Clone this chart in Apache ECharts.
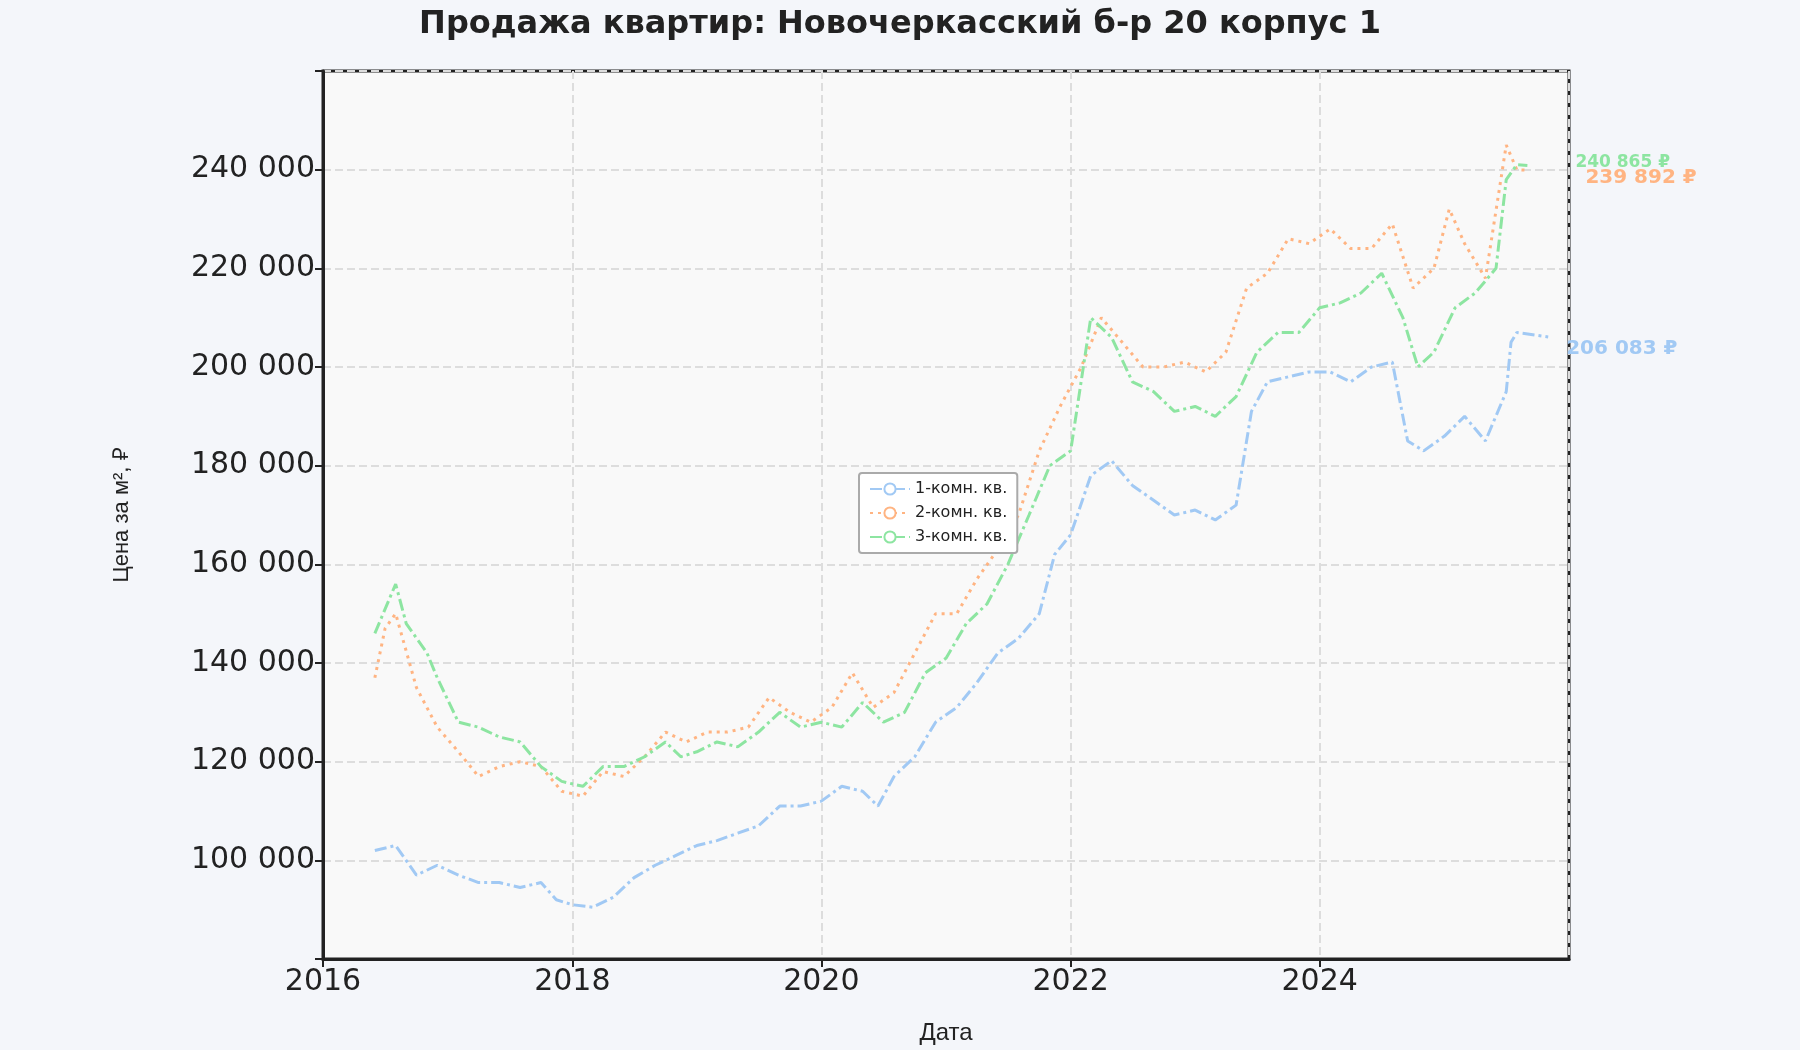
<!DOCTYPE html>
<html><head><meta charset="utf-8">
<script src="https://cdn.jsdelivr.net/npm/echarts@6/dist/echarts.min.js"></script>
<style>html,body{margin:0;background:#f4f6fa}#c{width:1800px;height:1050px}</style>
</head><body><div id="c"></div>
<script>
const dates1=['2016-06-01','2016-08-01','2016-10-01','2016-12-01','2017-02-01','2017-04-01','2017-06-01','2017-08-01','2017-10-01','2017-11-15','2018-01-01','2018-03-01','2018-05-01','2018-07-01','2018-09-01','2018-11-01','2019-01-01','2019-03-01','2019-05-01','2019-07-01','2019-09-01','2019-11-01','2020-01-01','2020-03-01','2020-05-01','2020-06-15','2020-08-01','2020-10-01','2020-12-01','2021-02-01','2021-04-01','2021-06-01','2021-08-01','2021-10-01','2021-11-15','2022-01-01','2022-03-01','2022-05-01','2022-07-01','2022-09-01','2022-11-01','2023-01-01','2023-03-01','2023-05-01','2023-06-15','2023-08-01','2023-10-01','2023-12-01','2024-02-01','2024-04-01','2024-06-01','2024-08-01','2024-09-15','2024-11-01','2025-01-01','2025-03-01','2025-05-01','2025-07-01','2025-07-15','2025-08-01','2025-11-01'];
const room1=[102000,103000,97000,99000,97000,95500,95500,94500,95500,92000,91000,90500,92500,96500,99000,101000,103000,104000,105500,107000,111000,111000,112000,115000,114000,111000,117000,121000,128000,131000,136000,142000,145000,150000,162000,166000,178000,181000,176000,173000,170000,171000,169000,172000,191000,197000,198000,199000,199000,197000,200000,201000,185000,183000,186000,190000,185000,195000,205000,207000,206083];
const dates2=['2016-06-01','2016-07-01','2016-08-01','2016-10-01','2016-12-01','2017-02-01','2017-04-01','2017-06-01','2017-08-01','2017-10-01','2017-12-01','2018-02-01','2018-04-01','2018-06-01','2018-08-01','2018-10-01','2018-12-01','2019-02-01','2019-04-01','2019-06-01','2019-08-01','2019-10-01','2019-12-01','2020-02-01','2020-04-01','2020-06-01','2020-08-01','2020-10-01','2020-12-01','2021-02-01','2021-04-01','2021-06-01','2021-08-01','2021-10-01','2021-12-01','2022-02-01','2022-04-01','2022-06-01','2022-08-01','2022-10-01','2022-12-01','2023-02-01','2023-04-01','2023-06-01','2023-08-01','2023-10-01','2023-12-01','2024-02-01','2024-04-01','2024-06-01','2024-08-01','2024-10-01','2024-12-01','2025-01-15','2025-03-01','2025-05-01','2025-07-01','2025-08-01','2025-09-01'];
const room2=[137000,147000,150000,135000,127000,122000,117000,119000,120000,119000,114000,113000,118000,117000,121000,126000,124000,126000,126000,127000,133000,130000,128000,131000,138000,131000,134000,142000,150000,150000,157000,163000,170000,183000,192000,200000,210000,205000,200000,200000,201000,199000,203000,216000,219000,226000,225000,228000,224000,224000,229000,216000,220000,232000,225000,218000,245000,240000,239892];
const dates3=['2016-06-01','2016-08-01','2016-09-01','2016-11-01','2016-12-01','2017-02-01','2017-04-01','2017-06-01','2017-08-01','2017-10-01','2017-12-01','2018-02-01','2018-04-01','2018-06-01','2018-08-01','2018-10-01','2018-11-15','2019-01-01','2019-03-01','2019-05-01','2019-07-01','2019-09-01','2019-11-01','2020-01-01','2020-03-01','2020-05-01','2020-07-01','2020-09-01','2020-11-01','2021-01-01','2021-03-01','2021-05-01','2021-07-01','2021-09-01','2021-11-01','2022-01-01','2022-03-01','2022-05-01','2022-07-01','2022-09-01','2022-11-01','2023-01-01','2023-03-01','2023-05-01','2023-07-01','2023-09-01','2023-11-01','2024-01-01','2024-03-01','2024-05-01','2024-07-01','2024-09-01','2024-10-15','2024-12-01','2025-02-01','2025-04-01','2025-06-01','2025-07-01','2025-08-01','2025-09-01'];
const room3=[146000,156000,148000,142000,137000,128000,127000,125000,124000,119000,116000,115000,119000,119000,121000,124000,121000,122000,124000,123000,126000,130000,127000,128000,127000,132000,128000,130000,138000,141000,148000,152000,160000,170000,180000,183000,210000,206000,197000,195000,191000,192000,190000,194000,203000,207000,207000,212000,213000,215000,219000,210000,200000,203000,212000,215000,220000,238000,241000,240865];
const yTicks=[100000,120000,140000,160000,180000,200000,220000,240000];
const fmt=v=>String(Math.round(v)).replace(/\B(?=(\d{3})+(?!\d))/g,' ');
const zip=(d,v)=>d.map((x,i)=>[x,v[i]]);
function ser(name,d,v,color,type,off){return {name,type:'line',data:zip(d,v),showSymbol:false,
 lineStyle:{color,width:3,type},itemStyle:{color},
 endLabel:{show:true,formatter:p=>fmt(p.value[1])+' ₽',color,fontWeight:'bold',fontSize:off[2],offset:[off[0],off[1]],fontFamily:'DejaVu Sans'}};}
const chart=echarts.init(document.getElementById('c'));
chart.setOption({
 backgroundColor:'#f4f6fa',
 title:{text:'Продажа квартир: Новочеркасский б-р 20 корпус 1',left:'center',top:4,textStyle:{fontSize:32,fontWeight:'bold',color:'#222',fontFamily:'DejaVu Sans'}},
 grid:{left:323,right:231,top:71,bottom:89,show:true,backgroundColor:'#f9f9f9',borderColor:'#222',borderWidth:3},
 legend:{left:859,top:473,orient:'vertical',backgroundColor:'#fff',borderColor:'#aaa',borderWidth:2,borderRadius:3,padding:[8,10],itemGap:8,itemWidth:40,textStyle:{fontSize:16,color:'#222',fontFamily:'DejaVu Sans'},
  data:['1-комн. кв.','2-комн. кв.','3-комн. кв.']},
 xAxis:{type:'time',min:'2016-01-01',max:'2026-01-01',interval:365.25*864e5,name:'Дата',nameLocation:'middle',nameGap:62,nameTextStyle:{fontSize:24,color:'#222'},
  axisLine:{lineStyle:{color:'#222',width:3}},axisTick:{show:true,length:8,lineStyle:{color:'#222',width:2}},
  axisLabel:{fontSize:30,color:'#222',formatter:v=>String(new Date(v).getFullYear()),fontFamily:'DejaVu Sans'},
  splitLine:{show:true,lineStyle:{color:'#ddd',type:'dashed',width:2}}},
 yAxis:{type:'value',min:80000,max:260000,interval:20000,name:'Цена за м², ₽',nameLocation:'middle',nameGap:190,nameTextStyle:{fontSize:22,color:'#222'},
  axisLine:{show:true,lineStyle:{color:'#222',width:3}},axisTick:{show:true,length:8,lineStyle:{color:'#222',width:2}},
  axisLabel:{fontSize:30,color:'#222',fontFamily:'DejaVu Sans',formatter:v=>yTicks.includes(v)?fmt(v):''},
  splitLine:{show:true,lineStyle:{color:'#ddd',type:'dashed',width:2}}},
 series:[
  ser('1-комн. кв.',dates1,room1,'#a1c9f4',[12,4,3,4],[10,12,20]),
  ser('2-комн. кв.',dates2,room2,'#ffb482',[3,5],[50,8,20]),
  ser('3-комн. кв.',dates3,room3,'#8de5a1',[12,4,3,4],[40,-3,17])
 ]
});
</script></body></html>
